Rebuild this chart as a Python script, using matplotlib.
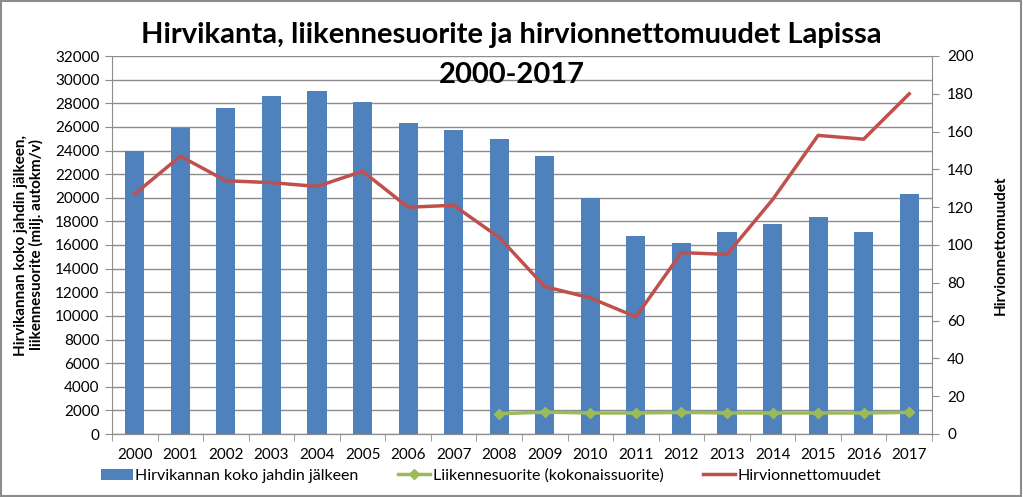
import matplotlib
matplotlib.use("Agg")
import matplotlib.pyplot as plt
import numpy as np
from matplotlib.patches import Rectangle

plt.rcParams['font.family'] = ['Lato', 'DejaVu Sans']

years = ['2000', '2001', '2002', '2003', '2004', '2005', '2006', '2007', '2008',
         '2009', '2010', '2011', '2012', '2013', '2014', '2015', '2016', '2017']
hirvikanta = [24000, 25900, 27600, 28600, 29000, 28100, 26300, 25700, 25000,
              23500, 20000, 16800, 16200, 17100, 17800, 18400, 17100, 20300]
liikenne_years = ['2008', '2009', '2010', '2011', '2012', '2013', '2014', '2015', '2016', '2017']
liikennesuorite = [1720, 1850, 1780, 1780, 1830, 1780, 1780, 1780, 1780, 1830]
onnettomuudet = [127, 147, 134, 133, 131, 139, 120, 121, 104,
                 78, 72, 62, 96, 95, 124, 158, 156, 180]

blue = '#4F81BD'
green = '#9BBB59'
red = '#C0504D'
gridc = '#8C8C8C'

fig = plt.figure(figsize=(10.23, 4.97), dpi=100)
ax = fig.add_axes([112/1023, 1-434/497, (932-112)/1023, (434-56)/497])
ax2 = ax.twinx()

x = np.arange(len(years))
xl = np.array([years.index(y) for y in liikenne_years])

bars = ax.bar(x, hirvikanta, width=0.42, color=blue, zorder=2,
              label='Hirvikannan koko jahdin jälkeen')
gl, = ax.plot(xl, liikennesuorite, color=green, lw=2.5, marker='D', ms=5,
              zorder=3, label='Liikennesuorite (kokonaissuorite)')
rl, = ax2.plot(x, onnettomuudet, color=red, lw=2.5, zorder=3,
               label='Hirvionnettomuudet')

ax.set_xlim(-0.5, len(years) - 0.5)
ax.set_ylim(0, 32000)
ax.set_yticks(np.arange(0, 32001, 2000))
ax2.set_ylim(0, 200)
ax2.set_yticks(np.arange(0, 201, 20))

ax.set_xticks(x)
ax.set_xticklabels(years)
ax.set_xticks(np.arange(-0.5, len(years), 1), minor=True)
ax.tick_params(axis='x', which='major', length=0, pad=10, labelsize=11)
ax.tick_params(axis='x', which='minor', length=5, color=gridc, direction='out')
ax.tick_params(axis='y', length=5, color=gridc, labelsize=11, pad=4)
ax2.tick_params(axis='y', length=5, color=gridc, labelsize=11, pad=6)

ax.yaxis.grid(True, color=gridc, lw=1, zorder=0)
ax.set_axisbelow(True)
for a in (ax, ax2):
    a.spines['top'].set_visible(False)
    a.spines['right'].set_visible(False)
    a.spines['left'].set_visible(False)
    a.spines['bottom'].set_color(gridc)
ax.spines['left'].set_visible(True)
ax.spines['left'].set_color(gridc)
ax2.spines['right'].set_visible(True)
ax2.spines['right'].set_color(gridc)

ax.set_ylabel('Hirvikannan koko jahdin jälkeen,\nliikennesuorite (milj. autokm/v)',
              fontsize=11, fontweight='bold', labelpad=8, linespacing=1.1)
ax2.set_ylabel('Hirvionnettomuudet', fontsize=11, fontweight='bold', labelpad=14)

fig.text(0.5, 0.929, 'Hirvikanta, liikennesuorite ja hirvionnettomuudet Lapissa',
         ha='center', va='center', fontsize=21, fontweight='bold')
fig.text(0.5, 0.850, '2000-2017', ha='center', va='center', fontsize=21, fontweight='bold')

fig.legend(handles=[bars, gl, rl], loc='center', bbox_to_anchor=(0.48, 0.043),
           ncol=3, frameon=False, fontsize=11.5, handlelength=2.0, columnspacing=2.5,
           handletextpad=0.15)

fig.patches.append(Rectangle((0.001, 0.002), 0.997, 0.995, transform=fig.transFigure,
                             fill=False, edgecolor='#8C8C8C', lw=1.5))

fig.savefig('out.png', dpi=100)
